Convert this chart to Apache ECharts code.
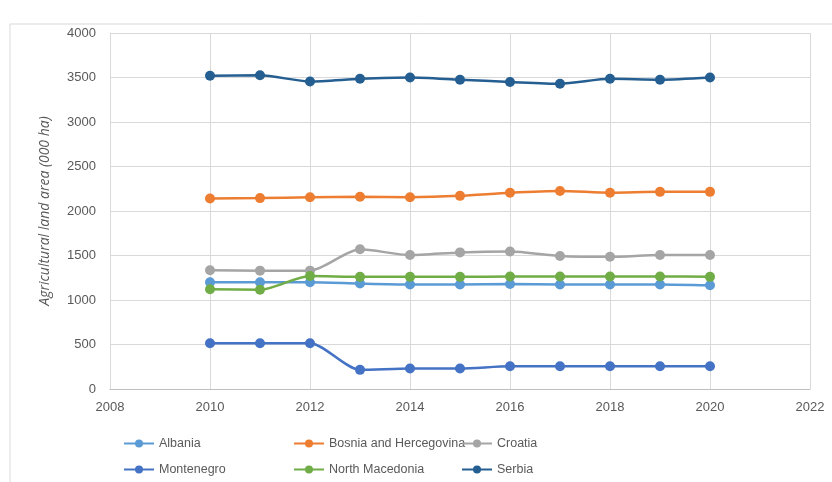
<!DOCTYPE html>
<html lang="en">
<head>
    <meta charset="utf-8">
    <title>Agricultural land area</title>
    <script src="https://cdn.jsdelivr.net/npm/echarts@6/dist/echarts.min.js"></script>
    <style>
        html, body { margin: 0; padding: 0; background: #fff; }
        #main { width: 832px; height: 482px; }
    </style>
</head>
<body>
    <div id="main"></div>
    <script>
        // values (000 ha)
        var years = [2010, 2011, 2012, 2013, 2014, 2015, 2016, 2017, 2018, 2019, 2020];
        var albania = [1200, 1200, 1200, 1185, 1175, 1175, 1180, 1175, 1175, 1175, 1165];
        var bosnia = [2140, 2145, 2155, 2160, 2155, 2170, 2205, 2225, 2205, 2215, 2215];
        var croatia = [1335, 1330, 1330, 1570, 1505, 1535, 1545, 1495, 1485, 1505, 1505];
        var montenegro = [515, 515, 515, 215, 230, 230, 255, 255, 255, 255, 255];
        var macedonia = [1120, 1115, 1270, 1260, 1260, 1260, 1265, 1265, 1265, 1265, 1260];
        var serbia = [3520, 3525, 3455, 3485, 3500, 3475, 3450, 3430, 3485, 3475, 3500];

        var names = ['Albania', 'Bosnia and Hercegovina', 'Croatia', 'Montenegro', 'North Macedonia', 'Serbia'];
        var values = [albania, bosnia, croatia, montenegro, macedonia, serbia];
        var colors = ['#5B9BD5', '#ED7D31', '#A5A5A5', '#4472C4', '#70AD47', '#255E91'];

        var font = '"Liberation Sans", Arial, sans-serif';

        function pairs(arr) {
            return years.map(function (y, i) { return [y, arr[i]]; });
        }

        var series = names.map(function (n, i) {
            return {
                name: n,
                type: 'line',
                data: pairs(values[i]),
                smooth: 0.25,
                symbol: 'circle',
                symbolSize: 10,
                color: colors[i],
                lineStyle: { width: 2.5 },
                animation: false
            };
        });

        function legendCol(items, left) {
            return {
                orient: 'vertical',
                left: left,
                top: 432,
                itemGap: 13,
                itemWidth: 30,
                itemHeight: 10,
                data: items,
                textStyle: { color: '#595959', fontSize: 12.5, fontFamily: font }
            };
        }

        var myChart = echarts.init(document.getElementById('main'));
        myChart.setOption({
            graphic: [{
                type: 'rect',
                shape: { x: 10, y: 24, width: 840, height: 480 },
                style: { fill: 'none', stroke: '#D9D9D9', lineWidth: 1 },
                silent: true
            }],
            legend: [
                legendCol(['Albania', 'Montenegro'], 118),
                legendCol(['Bosnia and Hercegovina', 'North Macedonia'], 288),
                legendCol(['Croatia', 'Serbia'], 456)
            ],
            grid: { left: 110, right: 22, top: 33, bottom: 93 },
            xAxis: {
                type: 'value',
                min: 2008,
                max: 2022,
                interval: 2,
                axisLine: { lineStyle: { color: '#BFBFBF' } },
                axisTick: { show: false },
                axisLabel: {
                    color: '#595959', fontSize: 13, fontFamily: font, margin: 12,
                    formatter: function (v) { return String(v); }
                },
                splitLine: { lineStyle: { color: '#D9D9D9' } }
            },
            yAxis: {
                type: 'value',
                min: 0,
                max: 4000,
                interval: 500,
                name: 'Agricultural land area (000 ha)',
                nameLocation: 'middle',
                nameGap: 58,
                nameTextStyle: { color: '#595959', fontSize: 14, fontStyle: 'italic', fontFamily: '"Open Sans", sans-serif' },
                axisLine: { show: true, lineStyle: { color: '#D9D9D9' } },
                axisTick: { show: false },
                axisLabel: {
                    color: '#595959', fontSize: 13, fontFamily: font, margin: 14,
                    formatter: function (v) { return String(v); }
                },
                splitLine: { lineStyle: { color: '#D9D9D9' } }
            },
            series: series
        });
        window.onresize = myChart.resize;
    </script>
</body>
</html>
